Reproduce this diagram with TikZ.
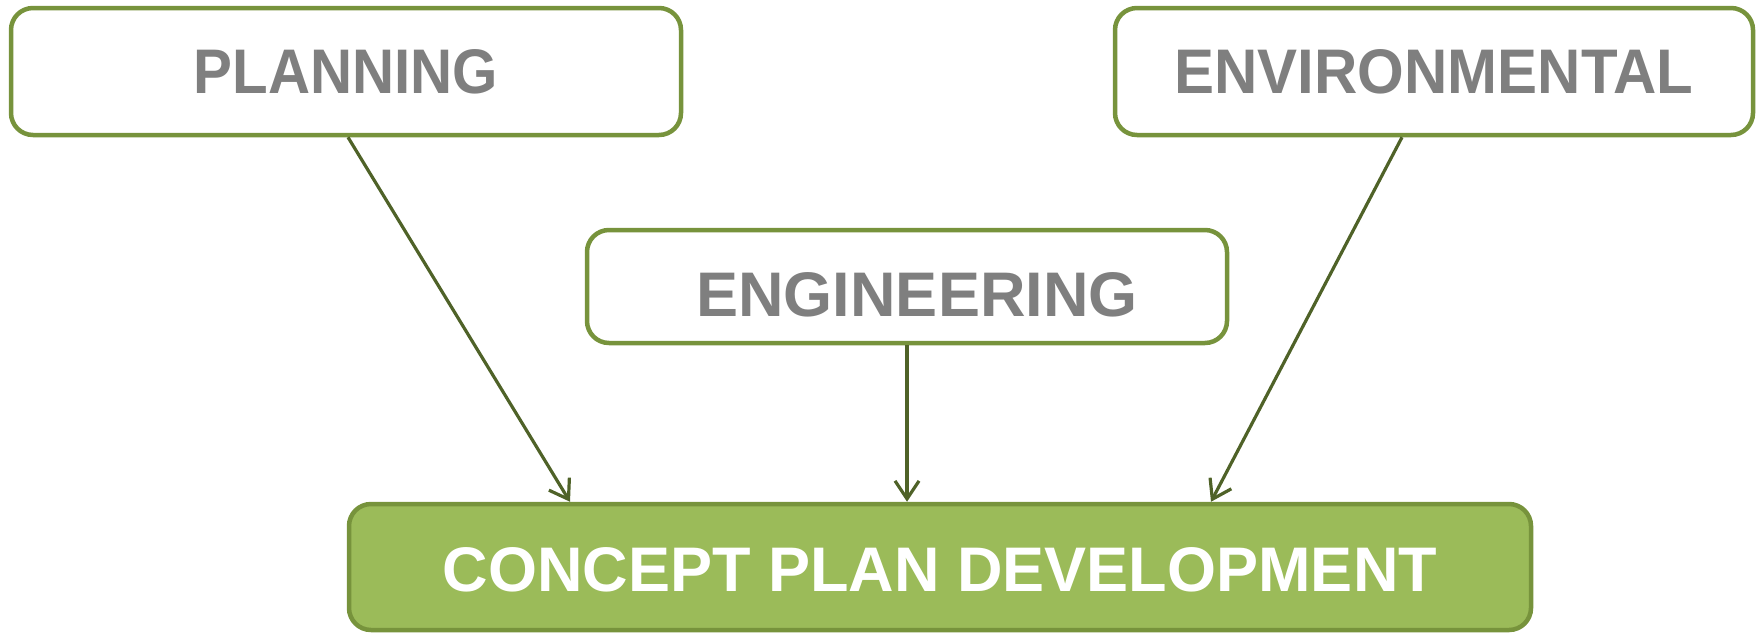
\documentclass[tikz,border=0pt]{standalone}
\usepackage{fontspec}
\usepackage{graphicx}
\setmainfont{Liberation Sans}
\usetikzlibrary{arrows.meta,calc}
\definecolor{boxline}{HTML}{77933C}
\definecolor{boxfill}{HTML}{9BBB59}
\definecolor{txtgray}{HTML}{7F7F7F}
\definecolor{arrowgreen}{HTML}{4F6228}
\begin{document}
\begin{tikzpicture}[x=1pt,y=-1pt,
  topbox/.style={draw=boxline, line width=4.5pt, rounded corners=22pt, fill=white,
    text=txtgray, font=\fontsize{63}{69}\selectfont\bfseries, inner sep=0pt},
  mainbox/.style={draw=boxline, line width=4.5pt, rounded corners=22pt, fill=boxfill,
    text=white, font=\fontsize{63}{69}\selectfont\bfseries, inner sep=0pt},
  link/.style={draw=arrowgreen, line width=3.2pt, -{Straight Barb[length=18pt,width=24pt,line width=3.2pt]}}
]
\useasboundingbox (0,0) rectangle (1762,633);
\node[topbox, minimum width=670pt, minimum height=127pt] (p) at (346,71.5) {\scalebox{0.925}[1]{PLANNING}};
\node[topbox, minimum width=638pt, minimum height=127pt] (e) at (1434,71.5) {\scalebox{0.952}[1]{ENVIRONMENTAL}};
\node[topbox, minimum width=640pt, minimum height=113pt] (g) at (907,286.5) {};
\node[txtgray, font=\fontsize{63}{69}\selectfont\bfseries, inner sep=0pt] (gt) at (917,295) {ENGINEERING};
\node[mainbox, minimum width=1182pt, minimum height=126pt] (c) at (940,567) {};
\node[white, font=\fontsize{63}{69}\selectfont\bfseries, inner sep=0pt] (ct) at (940,570) {CONCEPT PLAN DEVELOPMENT};
\coordinate (ps) at ($(p.south)+(2,0)$);
\coordinate (es) at ($(e.south)+(-32,0)$);
\coordinate (cp) at ($(c.north)+(-370,0)$);
\coordinate (cg) at (g.south |- c.north);
\coordinate (ce) at ($(c.north)+(271,0)$);
\draw[link] (ps) -- (cp);
\draw[link] (g.south) -- (cg);
\draw[link] (es) -- (ce);
\end{tikzpicture}
\end{document}
